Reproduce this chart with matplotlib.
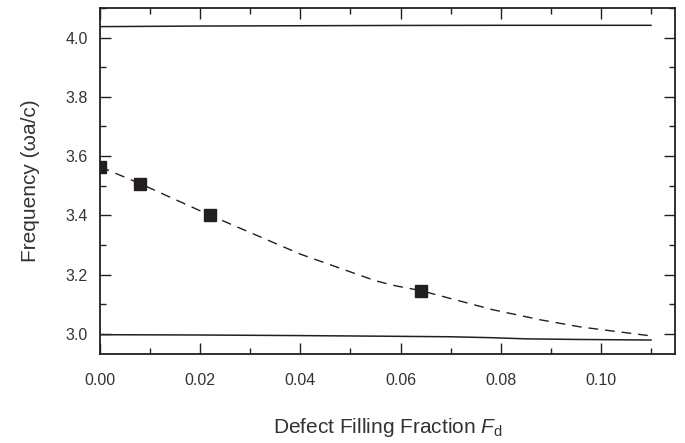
import numpy as np
import matplotlib.pyplot as plt
from matplotlib.ticker import MultipleLocator

plt.rcParams['font.family'] = ['Liberation Sans', 'DejaVu Sans']
plt.rcParams['mathtext.fontset'] = 'custom'
plt.rcParams['mathtext.rm'] = 'Liberation Sans'
plt.rcParams['mathtext.it'] = 'Liberation Sans:italic'

ink = '#231f20'

# upper band edge
upper_x = [0.0, 0.02, 0.04, 0.06, 0.08, 0.11]
upper_y = [4.037, 4.039, 4.040, 4.041, 4.0415, 4.0415]

# lower band edge
lower_x = [0.0, 0.02, 0.04, 0.056, 0.07, 0.078, 0.085, 0.095, 0.11]
lower_y = [2.997, 2.996, 2.994, 2.992, 2.990, 2.987, 2.983, 2.981, 2.979]

# defect mode (dashed)
defect_x = [0.0, 0.008, 0.022, 0.04, 0.055, 0.059, 0.064, 0.0785, 0.088, 0.096, 0.11]
defect_y = [3.564, 3.507, 3.40, 3.269, 3.179, 3.162, 3.146, 3.081, 3.047, 3.023, 2.993]

# measured points
meas_x = [0.0, 0.008, 0.022, 0.064]
meas_y = [3.564, 3.507, 3.40, 3.146]

fig = plt.figure(figsize=(6.85, 4.43), dpi=100)
ax = fig.add_axes([0.146, 0.201, 0.8394, 0.781])

ax.plot(upper_x, upper_y, color=ink, lw=1.1)
ax.plot(lower_x, lower_y, color=ink, lw=1.1)
ax.plot(defect_x, defect_y, color=ink, lw=1.0, dashes=(7, 5))
ax.plot(meas_x, meas_y, ls='none', marker='s', ms=8.5, color=ink, zorder=5)

ax.set_xlim(0.0, 0.1148)
ax.set_ylim(2.932, 4.10)
ax.xaxis.set_major_locator(MultipleLocator(0.02))
ax.xaxis.set_minor_locator(MultipleLocator(0.01))
ax.yaxis.set_major_locator(MultipleLocator(0.2))
ax.yaxis.set_minor_locator(MultipleLocator(0.1))
ax.xaxis.set_major_formatter(plt.FuncFormatter(lambda v, p: f'{v:.2f}'))
ax.yaxis.set_major_formatter(plt.FuncFormatter(lambda v, p: f'{v:.1f}'))

ax.tick_params(which='both', direction='in', top=True, right=True, color=ink,
               labelsize=11.5, labelcolor='#333333', width=1.0)
ax.tick_params(axis='x', which='major', length=8, pad=14)
ax.tick_params(axis='y', which='major', length=8, pad=9)
ax.tick_params(which='minor', length=4)
for s in ax.spines.values():
    s.set_color(ink)
    s.set_linewidth(1.3)

ax.set_ylabel('Frequency (ωa/c)', fontsize=15, color='#333333', labelpad=18)
ax.set_xlabel(r'Defect Filling Fraction $\mathit{F}_{\mathrm{d}}$', fontsize=15,
              color='#333333', labelpad=20)

fig.savefig('out.png', dpi=100)
